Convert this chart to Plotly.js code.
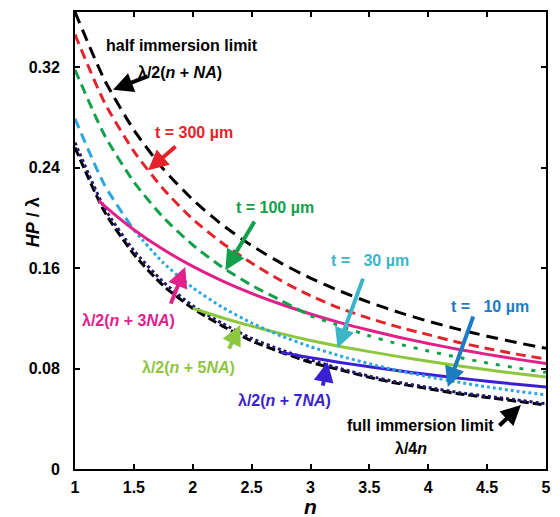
<!DOCTYPE html>
<html>
<head>
<meta charset="utf-8">
<script src="https://cdn.plot.ly/plotly-3.0.1.min.js"></script>
<style>
  html, body { margin: 0; padding: 0; background: #fff; }
  #plot { width: 560px; height: 517px; }
</style>
</head>
<body>
<div id="plot"></div>
<script>
// Refractive index samples
const n = [1, 1.25, 1.5, 1.75, 2, 2.25, 2.5, 2.75, 3, 3.25, 3.5, 3.75, 4, 4.25, 4.5, 4.75, 5];

// HP / lambda for the immersion limits
const halfLimit = [0.364, 0.310, 0.270, 0.239, 0.2145, 0.1945, 0.178, 0.164, 0.152, 0.1417, 0.1327, 0.1248, 0.1177, 0.1114, 0.1058, 0.1007, 0.0961];
const fullLimit = [0.256, 0.205, 0.171, 0.146, 0.128, 0.114, 0.102, 0.093, 0.085, 0.079, 0.073, 0.068, 0.064, 0.060, 0.057, 0.054, 0.051];

// HP / lambda for different gap thicknesses t
const t300 = [0.346, 0.292, 0.253, 0.223, 0.199, 0.180, 0.164, 0.150, 0.138, 0.128, 0.120, 0.113, 0.107, 0.101, 0.096, 0.0915, 0.0876];
const t100 = [0.318, 0.266, 0.2286, 0.2004, 0.1784, 0.1608, 0.1463, 0.1342, 0.122, 0.114, 0.106, 0.0995, 0.094, 0.089, 0.0845, 0.0805, 0.077];
const t30  = [0.279, 0.2263, 0.1903, 0.1642, 0.1444, 0.1289, 0.1163, 0.106, 0.0974, 0.0901, 0.0838, 0.0783, 0.0735, 0.0692, 0.0654, 0.062, 0.059];
const t10  = [0.260, 0.208, 0.174, 0.149, 0.130, 0.116, 0.104, 0.095, 0.087, 0.080, 0.074, 0.069, 0.065, 0.061, 0.058, 0.055, 0.052];

// Multi-NA expressions
const n3NA = [1.2, 1.25, 1.5, 1.75, 2, 2.25, 2.5, 2.75, 3, 3.25, 3.5, 3.75, 4, 4.25, 4.5, 4.75, 5];
const hp3NA = [0.2139, 0.2096, 0.1906, 0.1748, 0.1614, 0.1499, 0.1399, 0.1312, 0.1235, 0.1166, 0.1105, 0.105, 0.1, 0.0954, 0.0913, 0.0875, 0.084];
const n5NA = [2, 2.25, 2.5, 2.75, 3, 3.25, 3.5, 3.75, 4, 4.25, 4.5, 4.75, 5];
const hp5NA = [0.128, 0.1205, 0.1138, 0.1078, 0.1024, 0.0976, 0.0935, 0.0895, 0.0858, 0.0823, 0.079, 0.076, 0.0732];
const n7NA = [2.75, 3, 3.25, 3.5, 3.75, 4, 4.25, 4.5, 4.75, 5];
const hp7NA = [0.0929, 0.0887, 0.0849, 0.0814, 0.0782, 0.0752, 0.0725, 0.0699, 0.0675, 0.0653];

// Axis ticks
const xTicks = [1, 1.5, 2, 2.5, 3, 3.5, 4, 4.5, 5];
const xTickText = ['1', '1.5', '2', '2.5', '3', '3.5', '4', '4.5', '5'];
const yTicks = [0, 0.08, 0.16, 0.24, 0.32];
const yTickText = ['0', '0.08', '0.16', '0.24', '0.32'];

const FONT = "'Liberation Sans', Arial, Helvetica, sans-serif";

const C = {
  black: '#000000',
  red: '#e5232b',
  green: '#13a04b',
  cyan: '#2aa7e1',
  navy: '#1f1a6b',
  magenta: '#e0218a',
  lime: '#8dc63f',
  purple: '#3b1fd4',
  teal: '#3db5c9',
  blue: '#1b7cc2'
};

function line(x, y, color, dash, width) {
  return {
    x: x, y: y, type: 'scatter', mode: 'lines', hoverinfo: 'skip',
    line: { color: color, dash: dash, width: width || 3, shape: 'spline', smoothing: 0.6 }
  };
}

const traces = [
  line(n, fullLimit, C.black, '9px,4px', 3),
  line(n, t10, C.navy, '3px,3px', 3),
  line(n5NA, hp5NA, C.lime, 'solid', 3),
  line(n7NA, hp7NA, C.purple, 'solid', 3),
  line(n.slice(0, 3), t30.slice(0, 3), C.cyan, '10px,6px', 3),
  line(n.slice(2), t30.slice(2), C.cyan, '3px,3px', 3),
  line(n3NA, hp3NA, C.magenta, 'solid', 3),
  line(n.slice(0, 9), t100.slice(0, 9), C.green, '10px,6px', 3),
  line(n.slice(8), t100.slice(8), C.green, '4px,8px', 3),
  line(n, t300, C.red, '10px,6px', 3),
  line(n, halfLimit, C.black, '12px,7px', 3)
];

function label(text, x, y, color) {
  return {
    text: '<b>' + text + '</b>', x: x, y: y, xref: 'x', yref: 'y',
    showarrow: false, xanchor: 'center', yanchor: 'middle',
    font: { family: FONT, size: 16, color: color }
  };
}

function arrow(x, y, ax, ay, color) {
  return {
    text: '', x: x, y: y, xref: 'x', yref: 'y', ax: ax, ay: ay,
    showarrow: true, arrowhead: 2, arrowsize: 1.0, arrowwidth: 4,
    arrowcolor: color, standoff: 0, startstandoff: 0
  };
}

const annotations = [
  label('half immersion limit', 1.911, 0.3376, C.black),
  label('λ/2(<i>n</i> + <i>NA</i>)', 1.894, 0.316, C.black),
  arrow(1.323, 0.302, 36, -14, C.black),
  label('t = 300 µm', 2.013, 0.268, C.red),
  arrow(1.621, 0.238, 29, -25, C.red),
  label('t = 100 µm', 2.702, 0.2086, C.green),
  arrow(2.277, 0.1584, 30, -50, C.green),
  label('t =   30 µm', 3.502, 0.1664, C.teal),
  arrow(3.23, 0.0963, 26, -71, C.teal),
  label('t =   10 µm', 4.523, 0.1298, C.blue),
  arrow(4.166, 0.0653, 26, -72, C.blue),
  label('λ/2(<i>n</i> + 3<i>NA</i>)', 1.451, 0.1186, C.magenta),
  arrow(1.936, 0.1608, -15, 38, C.magenta),
  label('λ/2(<i>n</i> + 5<i>NA</i>)', 1.962, 0.0812, C.lime),
  arrow(2.404, 0.1146, -12, 25, C.lime),
  label('λ/2(<i>n</i> + 7<i>NA</i>)', 2.779, 0.0549, C.purple),
  arrow(3.145, 0.0852, -5, 25, C.purple),
  label('full immersion limit', 3.936, 0.035, C.black),
  label('λ/4<i>n</i>', 3.851, 0.0167, C.black),
  arrow(4.787, 0.051, -23, 22, C.black),
  {
    text: '<b><i>HP</i> / λ</b>', xref: 'paper', yref: 'paper', x: -0.089, y: 0.54,
    textangle: -90, showarrow: false, xanchor: 'center', yanchor: 'middle',
    font: { family: FONT, size: 18, color: C.black }
  },
  {
    text: '<b><i>n</i></b>', xref: 'paper', yref: 'paper', x: 0.5, y: -0.082,
    showarrow: false, xanchor: 'center', yanchor: 'middle',
    font: { family: FONT, size: 21, color: C.black }
  }
];

const axisCommon = {
  showgrid: false, zeroline: false, showline: true, mirror: 'ticks',
  linecolor: '#000', linewidth: 2, ticks: 'inside', ticklen: 5, tickwidth: 2,
  tickcolor: '#000', tickmode: 'array',
  tickfont: { family: FONT, size: 16, color: '#000', weight: 'bold' }
};

const layout = {
  width: 560, height: 517,
  margin: { l: 75, r: 14, t: 12, b: 48 },
  paper_bgcolor: '#fff', plot_bgcolor: '#fff',
  showlegend: false,
  xaxis: Object.assign({}, axisCommon, {
    range: [1, 5], tickvals: xTicks, ticktext: xTickText, ticklabelstandoff: 3
  }),
  yaxis: Object.assign({}, axisCommon, {
    range: [0, 0.364], tickvals: yTicks, ticktext: yTickText, ticklabelstandoff: 10
  }),
  annotations: annotations
};

Plotly.newPlot('plot', traces, layout, { staticPlot: true, displayModeBar: false });
</script>
</body>
</html>
